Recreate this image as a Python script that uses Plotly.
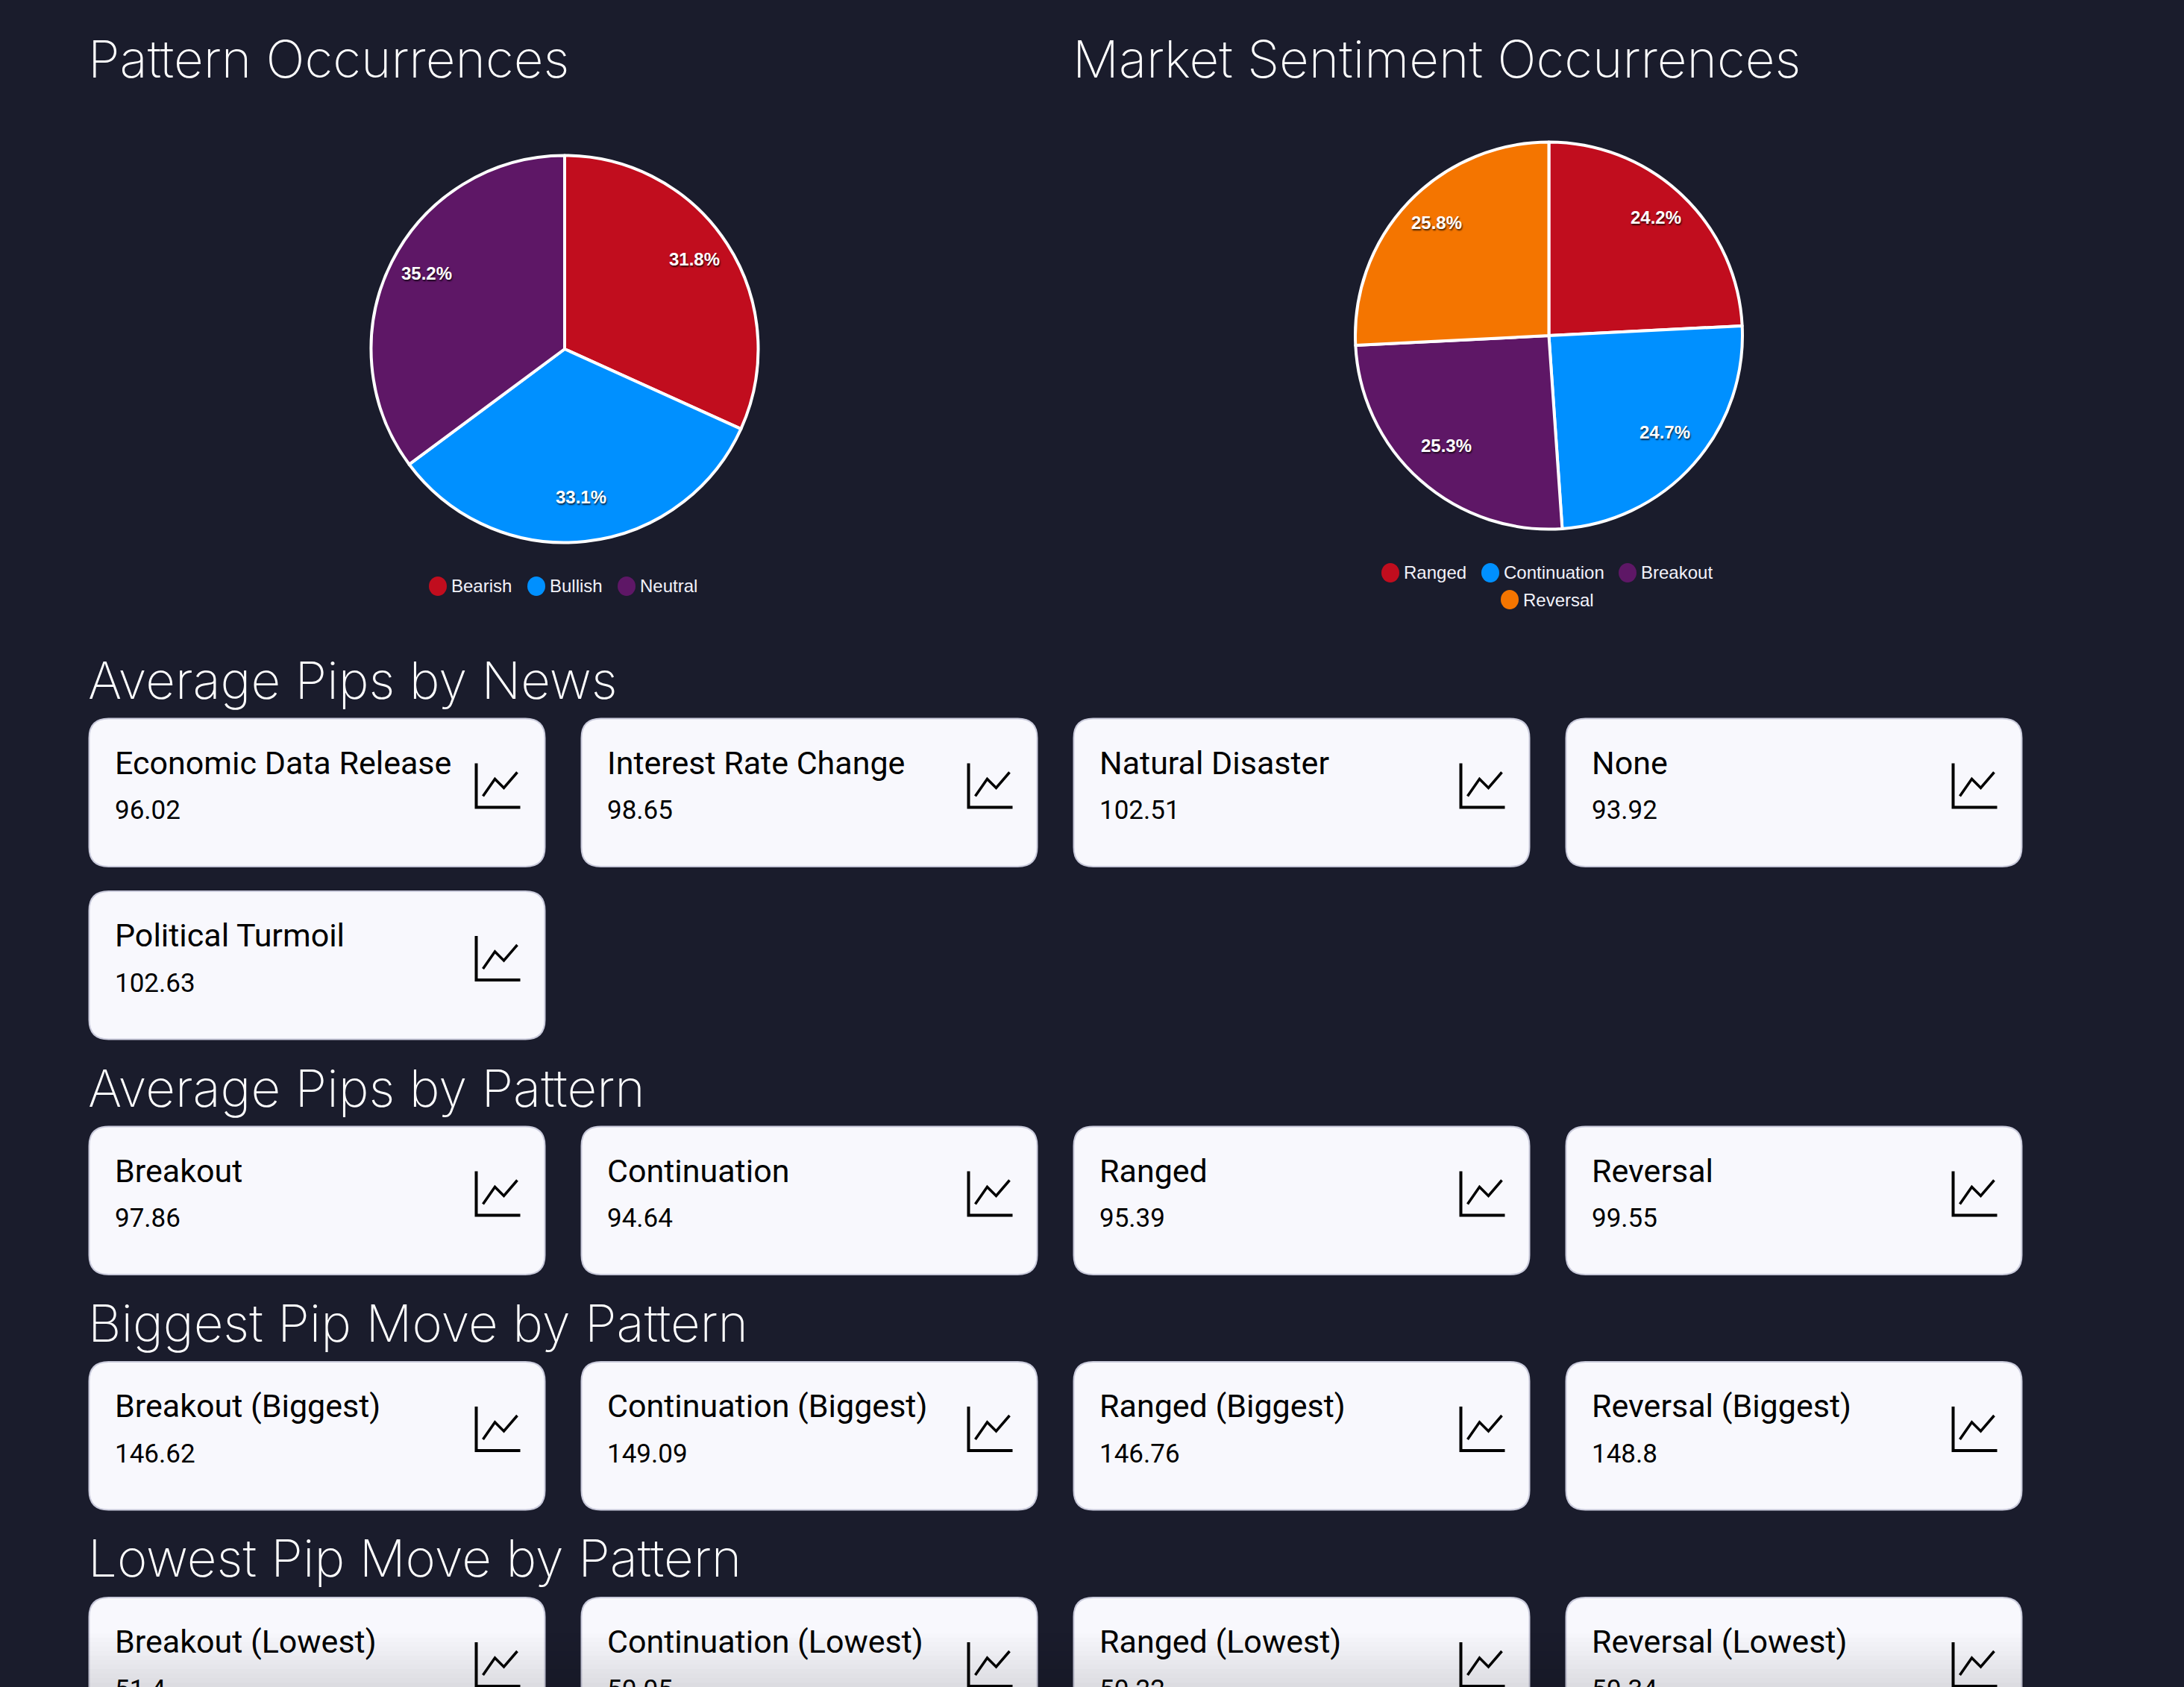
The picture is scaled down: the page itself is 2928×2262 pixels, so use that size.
import math
import plotly.graph_objects as go

W = 2928
H = 2262
BG = "#1a1c2c"
CARD = "#f8f8fd"

# pie data
pattern_labels = ["Bearish", "Bullish", "Neutral"]
pattern_values = [31.8, 33.1, 35.2]
pattern_colors = ["#c10d1e", "#0090ff", "#5e1766"]
sentiment_labels = ["Ranged", "Continuation", "Breakout", "Reversal"]
sentiment_values = [24.2, 24.7, 25.3, 25.8]
sentiment_colors = ["#c10d1e", "#0090ff", "#5e1766", "#f47500"]

# card data
news_names = ["Economic Data Release", "Interest Rate Change", "Natural Disaster", "None", "Political Turmoil"]
news_values = ["96.02", "98.65", "102.51", "93.92", "102.63"]
avg_names = ["Breakout", "Continuation", "Ranged", "Reversal"]
avg_values = ["97.86", "94.64", "95.39", "99.55"]
big_names = ["Breakout (Biggest)", "Continuation (Biggest)", "Ranged (Biggest)", "Reversal (Biggest)"]
big_values = ["146.62", "149.09", "146.76", "148.8"]
low_names = ["Breakout (Lowest)", "Continuation (Lowest)", "Ranged (Lowest)", "Reversal (Lowest)"]
low_values = ["51.4", "50.05", "50.22", "50.34"]

TITLE_FONT = "Inter"
CARD_FONT = "Roboto"
PIE_FONT = "Liberation Sans"


def px(x):
    return x / W


def py(y):
    return 1 - y / H


def pie_trace(labels, values, colors, cx, cy, r):
    return go.Pie(
        labels=labels, values=values, sort=False, direction="clockwise", rotation=0,
        marker=dict(colors=colors, line=dict(color="white", width=4)),
        textinfo="none", showlegend=False, hoverinfo="label+percent",
        domain=dict(x=[px(cx - r), px(cx + r)], y=[py(cy + r), py(cy - r)]),
    )


fig = go.Figure()
fig.add_trace(pie_trace(pattern_labels, pattern_values, pattern_colors, 757, 468, 259.5))
fig.add_trace(pie_trace(sentiment_labels, sentiment_values, sentiment_colors, 2076.5, 450, 259.5))

shapes = []
annotations = []


def text(x, y, s, font, size, color, xanchor="left", weight=None, shadow=None):
    annotations.append(dict(
        x=px(x), y=py(y), xref="paper", yref="paper", text=s, showarrow=False,
        xanchor=xanchor, yanchor="middle", borderpad=0,
        font=dict(family=font, size=size, color=color, weight=weight, shadow=shadow),
    ))


def pie_labels(values, cx, cy, r):
    # percent labels sit at 80% of the radius, in the middle of each slice
    total = sum(values)
    start = 0
    for v in values:
        mid = (start + v / 2) / total * 2 * math.pi
        start += v
        text(cx + 0.8 * r * math.sin(mid), cy - 0.8 * r * math.cos(mid) - 8,
             f"{v / total * 100:.1f}%", PIE_FONT, 24, "white", "center", 700,
             "1px 2px 2px rgba(0,0,0,0.7)")


def legend_row(labels, colors, xs, y):
    for label, color, x in zip(labels, colors, xs):
        shapes.append(dict(type="circle", xref="paper", yref="paper",
                           x0=px(x - 12), x1=px(x + 12), y0=py(y + 13), y1=py(y - 13),
                           fillcolor=color, line=dict(width=0)))
        text(x + 17, y, label, PIE_FONT, 24, "#f2f2fa")


def card(col, top, name, value):
    left = 119.5 + col * 660
    w, h, r = 611, 198.5, 26
    x0, x1, y0, y1 = px(left), px(left + w), py(top), py(top + h)
    rx, ry = r / W, r / H
    path = (f"M {x0 + rx} {y0} L {x1 - rx} {y0} Q {x1} {y0} {x1} {y0 - ry} "
            f"L {x1} {y1 + ry} Q {x1} {y1} {x1 - rx} {y1} L {x0 + rx} {y1} "
            f"Q {x0} {y1} {x0} {y1 + ry} L {x0} {y0 - ry} Q {x0} {y0} {x0 + rx} {y0} Z")
    shapes.append(dict(type="path", xref="paper", yref="paper", path=path,
                       fillcolor=CARD, line=dict(color="#c9cadb", width=2)))
    text(left + 33, top + 59, name, CARD_FONT, 43, "black")
    text(left + 33, top + 123, value, CARD_FONT, 35, "black")
    # chart icon
    ix, iy = left + 519, top + 60
    axes = (f"M {px(ix)} {py(iy)} L {px(ix)} {py(iy + 59)} L {px(ix + 59)} {py(iy + 59)}")
    line = (f"M {px(ix + 9)} {py(iy + 44)} L {px(ix + 25)} {py(iy + 21)} "
            f"L {px(ix + 37)} {py(iy + 33)} L {px(ix + 55)} {py(iy + 12)}")
    shapes.append(dict(type="path", xref="paper", yref="paper", path=axes,
                       line=dict(color="black", width=4)))
    shapes.append(dict(type="path", xref="paper", yref="paper", path=line,
                       line=dict(color="black", width=3.5)))


def card_row(names, values, top):
    for i, (n, v) in enumerate(zip(names, values)):
        card(i, top, n, v)


# section titles
for x, y, s in [(117, 79, "Pattern Occurrences"), (1437, 79, "Market Sentiment Occurrences"),
                (117, 912, "Average Pips by News"), (117, 1459, "Average Pips by Pattern"),
                (117, 1774, "Biggest Pip Move by Pattern"), (117, 2089, "Lowest Pip Move by Pattern")]:
    text(x, y, s, TITLE_FONT, 69, "white", weight=200)

pie_labels(pattern_values, 757, 468, 259.5)
pie_labels(sentiment_values, 2076.5, 450, 259.5)
legend_row(pattern_labels, pattern_colors, [587, 719, 840], 786)
legend_row(sentiment_labels[:3], sentiment_colors[:3], [1864, 1998, 2182], 768)
legend_row(sentiment_labels[3:], sentiment_colors[3:], [2024], 804)

card_row(news_names[:4], news_values[:4], 963.5)
card_row(news_names[4:], news_values[4:], 1195)
card_row(avg_names, avg_values, 1510.5)
card_row(big_names, big_values, 1826)
card_row(low_names, low_values, 2142)

# screenshot fade along the bottom edge
fade_top = 2190
for i in range(12):
    y0 = fade_top + i * 6
    shapes.append(dict(type="rect", xref="paper", yref="paper", layer="above",
                       x0=px(116), x1=px(2714), y0=py(y0 + 6), y1=py(y0),
                       fillcolor="black", opacity=0.009 * (i + 1), line=dict(width=0)))

fig.update_layout(
    width=W, height=H, margin=dict(l=0, r=0, t=0, b=0), autosize=False,
    paper_bgcolor=BG, plot_bgcolor=BG, shapes=shapes, annotations=annotations,
)

fig.write_html("out.html", config={"displayModeBar": False},
               post_script="document.body.style.margin='0';document.body.style.background='%s';" % BG)
